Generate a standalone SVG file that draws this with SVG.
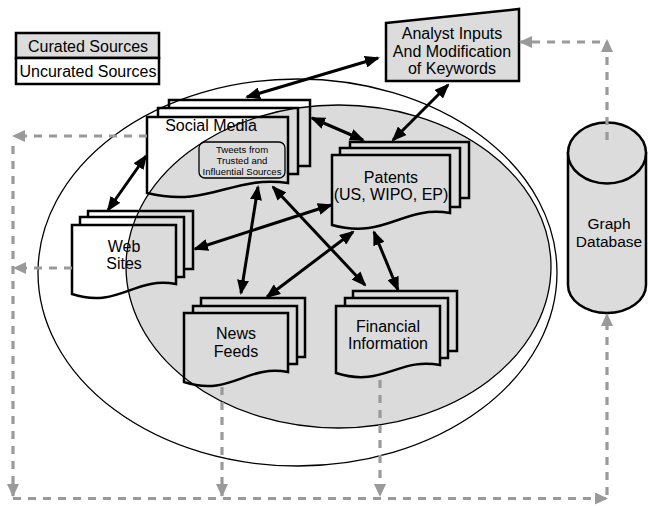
<svg xmlns="http://www.w3.org/2000/svg" width="648" height="506" viewBox="0 0 648 506">
<style>
text{font-family:"Liberation Sans",Arial,sans-serif;font-size:16px;fill:#000;text-anchor:middle}
.pg{fill:#fff;stroke:#000;stroke-width:2.5}
.gray{fill:#dcdcdc;stroke:#000;stroke-width:2.5}
.blk{stroke:#000;stroke-width:3;fill:none;marker-start:url(#ah);marker-end:url(#ah)}
.dsh{stroke:#9a9a9a;stroke-width:3.2;fill:none;stroke-dasharray:8,7;marker-end:url(#gh)}
.sm{font-size:9.6px}
</style>
<defs>
<marker id="ah" viewBox="0 0 15 12" refX="13" refY="6" markerWidth="15" markerHeight="12" markerUnits="userSpaceOnUse" orient="auto-start-reverse"><path d="M0,0 L15,6 L0,12 z" fill="#000"/></marker>
<marker id="gh" viewBox="0 0 13 12" refX="12" refY="6" markerWidth="13" markerHeight="12" markerUnits="userSpaceOnUse" orient="auto"><path d="M0,0 L13,6 L0,12 z" fill="#9a9a9a"/></marker>
</defs>
<rect width="648" height="506" fill="#fff"/>

<g id="legend">
<rect x="16" y="33" width="143" height="25" fill="#dcdcdc" stroke="#000" stroke-width="2.5"/>
<rect x="16" y="58" width="143" height="26" fill="#fff" stroke="#000" stroke-width="2.5"/>
<text x="88" y="52">Curated Sources</text>
<text x="88" y="77">Uncurated Sources</text>
</g>

<g id="social-media">
<rect class="pg" x="169" y="100" width="141" height="66"/>
<rect class="pg" x="158" y="108" width="140" height="66"/>
<path class="pg" d="M147,117 H288 V183 C231.6,175 210.5,208 147,193 Z"/>
</g>
<g id="web-sites">
<rect class="pg" x="88" y="211" width="105" height="58"/>
<rect class="pg" x="80" y="217" width="104" height="60"/>
<path class="pg" d="M72,225 H176 V284 C134.4,276 118.8,309 72,294 Z"/>
</g>
<g id="patents">
<rect class="pg" x="350" y="142" width="119" height="56"/>
<rect class="pg" x="340" y="148" width="120" height="59"/>
<path class="pg" d="M332,155 H450 V213 C402.8,205 385.1,240 332,225 Z"/>
</g>
<g id="news-feeds">
<rect class="pg" x="201" y="298" width="104" height="59"/>
<rect class="pg" x="193" y="306" width="104" height="58"/>
<path class="pg" d="M184,313 H288 V372 C246.4,364 230.8,397 184,382 Z"/>
</g>
<g id="financial-information">
<rect class="pg" x="353" y="291" width="104" height="60"/>
<rect class="pg" x="345" y="298" width="103" height="60"/>
<path class="pg" d="M336,306 H440 V365 C398.4,357 382.8,388 336,373 Z"/>
</g>
<g id="tweets-box">
<rect x="199" y="142" width="86" height="36" rx="6" fill="#fff" stroke="#000" stroke-width="1.3"/>
</g>

<g id="curated-region">
<ellipse cx="338.5" cy="266.5" rx="212.5" ry="161.5" fill="#000" fill-opacity="0.14" stroke="#000" stroke-width="1.3"/>
</g>
<g id="sources-region">
<ellipse cx="297.5" cy="272.5" rx="259.5" ry="193.5" fill="none" stroke="#000" stroke-width="1.3"/>
</g>

<g id="labels">
<text x="211" y="131">Social Media</text>
<text class="sm" x="242" y="153">Tweets from</text>
<text class="sm" x="242" y="164">Trusted and</text>
<text class="sm" x="242" y="174.5">Influential Sources</text>
<text x="124" y="252">Web</text>
<text x="124" y="269">Sites</text>
<text x="391" y="183">Patents</text>
<text x="391" y="200">(US, WIPO, EP)</text>
<text x="236" y="339">News</text>
<text x="236" y="357">Feeds</text>
<text x="388" y="332">Financial</text>
<text x="388" y="349">Information</text>
</g>

<g id="analyst-inputs">
<path class="gray" d="M386,23 L519,9 L519,81 L386,81 Z"/>
<text x="452" y="39">Analyst Inputs</text>
<text x="452" y="57">And Modification</text>
<text x="452" y="74">of Keywords</text>
</g>

<g id="graph-database">
<path class="gray" d="M568,153 V285 A39,28 0 0 0 646,285 V153 Z"/>
<ellipse cx="607" cy="153" rx="39" ry="30.5" fill="#dcdcdc" stroke="#000" stroke-width="2.5"/>
<text x="609" y="229" style="font-size:15.5px">Graph</text>
<text x="609" y="247" style="font-size:15.5px">Database</text>
</g>

<g id="connectors">
<path class="dsh" d="M147,136 L13,136"/>
<path class="dsh" d="M13,146 L13,496"/>
<path class="dsh" d="M72,268 L14,268"/>
<path class="dsh" d="M13,498.5 L607,498.5"/>
<path class="dsh" d="M222,387 L222,496"/>
<path class="dsh" d="M380,380 L380,496"/>
<path class="dsh" d="M607,495 L607,314"/>
<path class="dsh" d="M607,140 L607,40"/>
<path class="dsh" d="M600,42 L520,42"/>
<path class="blk" d="M247,97 L378,58"/>
<path class="blk" d="M448,85 L393,140"/>
<path class="blk" d="M312,118 L363,140"/>
<path class="blk" d="M146,156 L108,210"/>
<path class="blk" d="M258,187 L241,293"/>
<path class="blk" d="M273,187 L365,285"/>
<path class="blk" d="M195,249 L331,205"/>
<path class="blk" d="M267,297 L353,232"/>
<path class="blk" d="M374,232 L398,290"/>
</g>
</svg>
